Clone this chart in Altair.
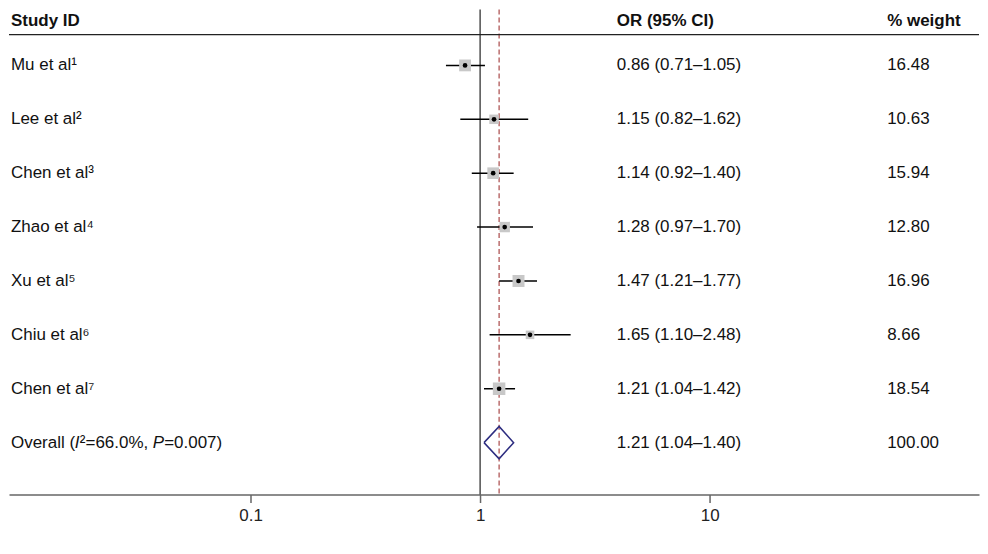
import altair as alt
import pandas as pd

studies = ["Mu et al¹", "Lee et al²", "Chen et al³", "Zhao et al⁴", "Xu et al⁵", "Chiu et al⁶", "Chen et al⁷"]
est = [0.86, 1.15, 1.14, 1.28, 1.47, 1.65, 1.21]
lo = [0.71, 0.82, 0.92, 0.97, 1.21, 1.10, 1.04]
hi = [1.05, 1.62, 1.40, 1.70, 1.77, 2.48, 1.42]
weight = [16.48, 10.63, 15.94, 12.80, 16.96, 8.66, 18.54]
overall = (1.21, 1.04, 1.40)
ticks = [0.1, 1, 10]

FONT = "Liberation Sans"
FS = 17
df = pd.DataFrame({"study": studies, "est": est, "lo": lo, "hi": hi, "w": weight, "row": list(range(7))})
df["ci"] = [f"{e:.2f} ({l:.2f}–{h:.2f})" for e, l, h in zip(est, lo, hi)]
df["wt"] = [f"{w:.2f}" for w in weight]

xs = alt.Scale(type="log", domain=[0.00887, 149])
ys = alt.Scale(domain=[-1.037, 7.963], reverse=True)
X = alt.X("est:Q", scale=xs, axis=alt.Axis(values=ticks, format="~g", grid=False, domainColor="#666", domainWidth=1.5,
          tickColor="#666", tickSize=8, tickWidth=1.5, labelFontSize=FS, labelFont=FONT, labelColor="#222", labelPadding=5, title=None))
Y = alt.Y("row:Q", scale=ys, axis=None)

base = alt.Chart(df)
ci = base.mark_rule(color="black", strokeWidth=1.5).encode(x=X, x2="hi:Q", y=Y).transform_calculate(est="datum.lo")
sq = base.mark_square(color="#c8c8c8", opacity=1).encode(x=X, y=Y, size=alt.Size("w:Q", scale=alt.Scale(domain=[0, 20], range=[0, 170]), legend=None))
dot = base.mark_circle(color="black", size=22, opacity=1).encode(x=X, y=Y)

txt = dict(font=FONT, fontSize=FS, align="left", baseline="middle", color="#111")
names = base.mark_text(**txt).encode(x=alt.value(2), y=Y, text="study:N")
cis = base.mark_text(**txt).encode(x=alt.value(609), y=Y, text="ci:N")
wts = base.mark_text(**txt).encode(x=alt.value(880), y=Y, text="wt:N")

hdr = pd.DataFrame({"t": ["Study ID", "OR (95% CI)", "% weight"], "px": [2, 609, 880], "row": [-0.82] * 3})
hdrs = alt.Chart(hdr).mark_text(font=FONT, fontSize=FS, fontWeight="bold", align="left", baseline="middle", color="#111").encode(
    x=alt.X("px:Q", scale=None), y=Y, text="t:N")
hline = alt.Chart(pd.DataFrame({"row": [-0.57]})).mark_rule(color="#222", strokeWidth=1.2).encode(
    x=alt.value(0), x2=alt.value(972), y=Y)

ov = pd.DataFrame({"t": ["Overall (", "I", "²=66.0%, ", "P", "=0.007)", "1.21 (1.04–1.40)", "100.00"],
                   "px": [2, 66, 71, 144, 155.5, 609, 880], "it": [0, 1, 0, 1, 0, 0, 0],
                   "row": [7] * 7})
ovn = alt.Chart(ov).transform_filter("datum.it == 0").mark_text(**txt).encode(x=alt.X("px:Q", scale=None), y=Y, text="t:N")
ovi = alt.Chart(ov).transform_filter("datum.it == 1").mark_text(fontStyle="italic", **txt).encode(x=alt.X("px:Q", scale=None), y=Y, text="t:N")

e, l, h = overall
dia = pd.DataFrame({"est": [l, e, h, e, l], "row": [7, 6.7, 7, 7.3, 7], "o": [0, 1, 2, 3, 4]})
diam = alt.Chart(dia).mark_line(color="#2d2d80", strokeWidth=1.5).encode(x=X, y=Y, order="o:Q")

ref1 = alt.Chart(pd.DataFrame({"est": [1]})).mark_rule(color="#222", strokeWidth=1.2).encode(x=X, y=alt.value(0), y2=alt.value(486))
refo = alt.Chart(pd.DataFrame({"est": [e]})).mark_rule(color="#a84848", strokeWidth=1.2, strokeDash=[5, 3]).encode(x=X, y=alt.value(0), y2=alt.value(486))

chart = alt.layer(ref1, refo, ci, sq, dot, diam, hline, names, cis, wts, hdrs, ovn, ovi).properties(
    width=972, height=486, padding=0).configure_view(stroke=None)
chart.save("out.html", embed_options={"renderer": "svg", "actions": False})
